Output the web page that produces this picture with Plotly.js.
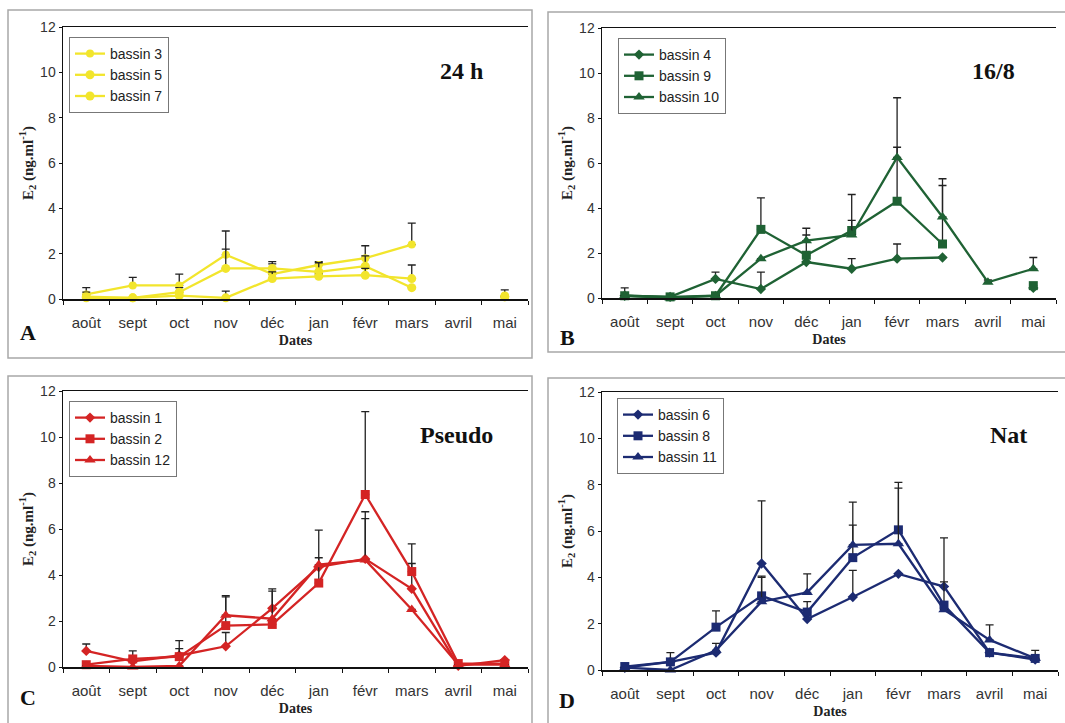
<!DOCTYPE html>
<html>
<head>
<meta charset="utf-8">
<script src="https://cdn.plot.ly/plotly-3.0.1.min.js"></script>
<style>
html,body{margin:0;padding:0;background:#fff;}
#chart{width:1065px;height:723px;}
</style>
</head>
<body>
<div id="chart"></div>
<script>
// ---------- DATA ----------
const months = ["août","sept","oct","nov","déc","jan","févr","mars","avril","mai"];

// Panel A : 24 h
const bassin3 = [0.2, 0.6, 0.6, 1.95, 1.1, 1.5, 1.8, 2.4, null, 0.15];
const bassin3Err = [0.3, 0.35, 0.5, 1.05, 0.45, 0.15, 0.55, 0.95, null, 0.25];
const bassin5 = [0.1, 0.05, 0.3, 1.35, 1.35, 1.2, 1.45, 0.5, null, 0.1];
const bassin5Err = [0.2, 0, 0.2, 0.85, 0.3, 0.4, 0.45, 0, null, 0];
const bassin7 = [0.05, 0.05, 0.15, 0.05, 0.9, 1.0, 1.05, 0.9, null, 0.1];
const bassin7Err = [0, 0, 0, 0.3, 0.3, 0.1, 0.3, 0.6, null, 0];

// Panel B : 16/8
const bassin4 = [0.1, 0.05, 0.85, 0.4, 1.6, 1.3, 1.75, 1.8, null, 0.45];
const bassin4Err = [0.35, 0, 0.3, 0.75, 0, 0.45, 0.65, 0, null, 0];
const bassin9 = [0.1, 0.05, 0.1, 3.05, 1.9, 3.0, 4.3, 2.4, null, 0.55];
const bassin9Err = [0, 0, 0, 1.4, 0.9, 1.6, 2.4, 2.6, null, 0];
const bassin10 = [0.1, 0.0, 0.1, 1.75, 2.55, 2.8, 6.25, 3.6, 0.7, 1.3];
const bassin10Err = [0, 0, 0, 0, 0.55, 0.65, 2.65, 1.7, 0.1, 0.5];

// Panel C : Pseudo
const bassin1 = [0.7, 0.25, 0.5, 0.9, 2.55, 4.35, 4.7, 3.4, 0.05, 0.3];
const bassin1Err = [0.3, 0, 0.3, 0.6, 0.85, 1.6, 2.05, 1.1, 0, 0];
const bassin2 = [0.1, 0.35, 0.45, 1.8, 1.85, 3.65, 7.5, 4.15, 0.15, 0.15];
const bassin2Err = [0, 0.35, 0.7, 1.25, 1.45, 1.1, 3.6, 1.2, 0, 0];
const bassin12 = [0.05, 0.0, 0.05, 2.25, 2.1, 4.45, 4.65, 2.5, 0.1, 0.1];
const bassin12Err = [0, 0, 0, 0.85, 0, 0, 1.8, 0, 0, 0];

// Panel D : Nat
const bassin6 = [0.1, 0.35, 0.75, 4.6, 2.2, 3.15, 4.15, 3.6, 0.75, 0.45];
const bassin6Err = [0, 0, 0.4, 2.7, 0, 1.15, 0, 2.1, 0, 0];
const bassin8 = [0.15, 0.35, 1.85, 3.2, 2.5, 4.85, 6.05, 2.8, 0.75, 0.5];
const bassin8Err = [0, 0.4, 0.7, 0.85, 0.45, 1.4, 2.05, 1.0, 0, 0.35];
const bassin11 = [0.1, 0.0, 0.85, 2.95, 3.35, 5.4, 5.45, 2.6, 1.3, 0.5];
const bassin11Err = [0, 0, 0, 1.05, 0.8, 1.85, 2.4, 0, 0.65, 0];

const panelTitles = ["24 h", "16/8", "Pseudo", "Nat"];
const panelLetters = ["A", "B", "C", "D"];

// ---------- STYLE / LAYOUT HELPERS ----------
const W = 1065, H = 723;
const px = x => x / W;
const py = y => 1 - y / H;

const COL = {A: "#f2e52c", B: "#1f6234", C: "#d42424", D: "#1c2b72"};
const symbols = ["diamond", "square", "triangle-up"];
const msizes = [8, 9, 10];

function tr(name, y, err, sym, size, color, ax, legend) {
  return {
    type: "scatter", mode: "lines+markers", name: name,
    x: months, y: y,
    xaxis: "x" + ax, yaxis: "y" + ax, legend: legend,
    connectgaps: false, cliponaxis: false,
    line: {color: color, width: 2.3},
    marker: {symbol: sym, size: size, color: color},
    error_y: {type: "data", symmetric: false, array: err,
      arrayminus: err.map(() => 0), color: "#222", thickness: 1.3, width: 4}
  };
}

const yellow = COL.A;
const data = [
  tr("bassin 3", bassin3, bassin3Err, "circle", 8, yellow, "", "legend"),
  tr("bassin 5", bassin5, bassin5Err, "circle", 9, yellow, "", "legend"),
  tr("bassin 7", bassin7, bassin7Err, "circle", 9, yellow, "", "legend"),
  tr("bassin 4", bassin4, bassin4Err, symbols[0], msizes[0], COL.B, "2", "legend2"),
  tr("bassin 9", bassin9, bassin9Err, symbols[1], msizes[1], COL.B, "2", "legend2"),
  tr("bassin 10", bassin10, bassin10Err, symbols[2], msizes[2], COL.B, "2", "legend2"),
  tr("bassin 1", bassin1, bassin1Err, symbols[0], msizes[0], COL.C, "3", "legend3"),
  tr("bassin 2", bassin2, bassin2Err, symbols[1], msizes[1], COL.C, "3", "legend3"),
  tr("bassin 12", bassin12, bassin12Err, symbols[2], msizes[2], COL.C, "3", "legend3"),
  tr("bassin 6", bassin6, bassin6Err, symbols[0], msizes[0], COL.D, "4", "legend4"),
  tr("bassin 8", bassin8, bassin8Err, symbols[1], msizes[1], COL.D, "4", "legend4"),
  tr("bassin 11", bassin11, bassin11Err, symbols[2], msizes[2], COL.D, "4", "legend4")
];

// pixel boxes of each plot area: [left, right, top, bottom]
const boxes = [
  [63, 528, 27, 299],
  [602, 1056, 28, 298],
  [63, 528, 391, 667],
  [602, 1058, 392, 670]
];
// outer frames: [left, right, top, bottom]
const frames = [
  [8, 532, 10, 358],
  [548, 1070, 12, 352],
  [8, 532, 376, 730],
  [548, 1070, 378, 730]
];
const legendPos = [[69, 37], [618, 38], [69, 401], [617, 398]];
const titlePos = [[461, 71], [993, 71], [456, 435], [1008, 435]];
const letterPos = [[28, 333], [567, 337], [28, 697], [567, 700]];

const layout = {
  width: W, height: H,
  margin: {l: 0, r: 0, t: 0, b: 0},
  paper_bgcolor: "#fff", plot_bgcolor: "#fff",
  showlegend: true,
  font: {family: "Liberation Sans, Arial, sans-serif", color: "#333"},
  annotations: [], shapes: []
};

const suffixes = ["", "2", "3", "4"];
boxes.forEach((b, i) => {
  const s = suffixes[i];
  layout["xaxis" + s] = {
    domain: [px(b[0]), px(b[1])], anchor: "y" + s,
    type: "category", categoryarray: months, range: [-0.5, 9.5],
    showline: true, linecolor: "#111", linewidth: 1.5, mirror: true,
    ticks: "outside", tickson: "boundaries", ticklen: 4, tickcolor: "#111",
    ticklabelstandoff: 9,
    showgrid: false, zeroline: false,
    tickfont: {size: 15, color: "#333", family: "Liberation Sans, Arial"},
    title: {text: "Dates", font: {family: "Liberation Serif, Times New Roman, serif", size: 14, color: "#222", weight: "bold"}, standoff: 5}
  };
  layout["yaxis" + s] = {
    domain: [py(b[3]), py(b[2])], anchor: "x" + s,
    range: [0, 12], dtick: 2,
    showline: true, linecolor: "#111", linewidth: 1.5,
    ticks: "outside", ticklen: 3, tickcolor: "#111",
    showgrid: false, zeroline: false,
    tickfont: {size: 14, color: "#333", family: "Liberation Sans, Arial"},
    title: {text: "E<sub>2</sub> (ng.ml<sup>-1</sup>)", font: {family: "Liberation Serif, Times New Roman, serif", size: 15, color: "#222", weight: "bold"}, standoff: 3}
  };
  const lg = (i === 0 ? "legend" : "legend" + (i + 1));
  layout[lg] = {
    x: px(legendPos[i][0]), y: py(legendPos[i][1]), xanchor: "left", yanchor: "top",
    xref: "paper", yref: "paper",
    bgcolor: "#fff", bordercolor: "#777", borderwidth: 1,
    font: {size: 14, color: "#222", family: "Liberation Sans, Arial"},
    tracegroupgap: 0, itemwidth: 30
  };
  layout.annotations.push({
    text: "<b>" + panelTitles[i] + "</b>", x: px(titlePos[i][0]), y: py(titlePos[i][1]),
    xref: "paper", yref: "paper", showarrow: false, xanchor: "center", yanchor: "middle",
    font: {family: "Liberation Serif, Times New Roman, serif", size: 24, color: "#111"}
  });
  layout.annotations.push({
    text: "<b>" + panelLetters[i] + "</b>", x: px(letterPos[i][0]), y: py(letterPos[i][1]),
    xref: "paper", yref: "paper", showarrow: false, xanchor: "center", yanchor: "middle",
    font: {family: "Liberation Serif, Times New Roman, serif", size: 22, color: "#111"}
  });
  const f = frames[i];
  layout.shapes.push({
    type: "rect", xref: "paper", yref: "paper",
    x0: px(f[0]), x1: px(f[1]), y0: py(f[3]), y1: py(f[2]),
    line: {color: "#a8a8a8", width: 1.5}, fillcolor: "rgba(0,0,0,0)", layer: "below"
  });
});

Plotly.newPlot("chart", data, layout, {staticPlot: true});
</script>
</body>
</html>
